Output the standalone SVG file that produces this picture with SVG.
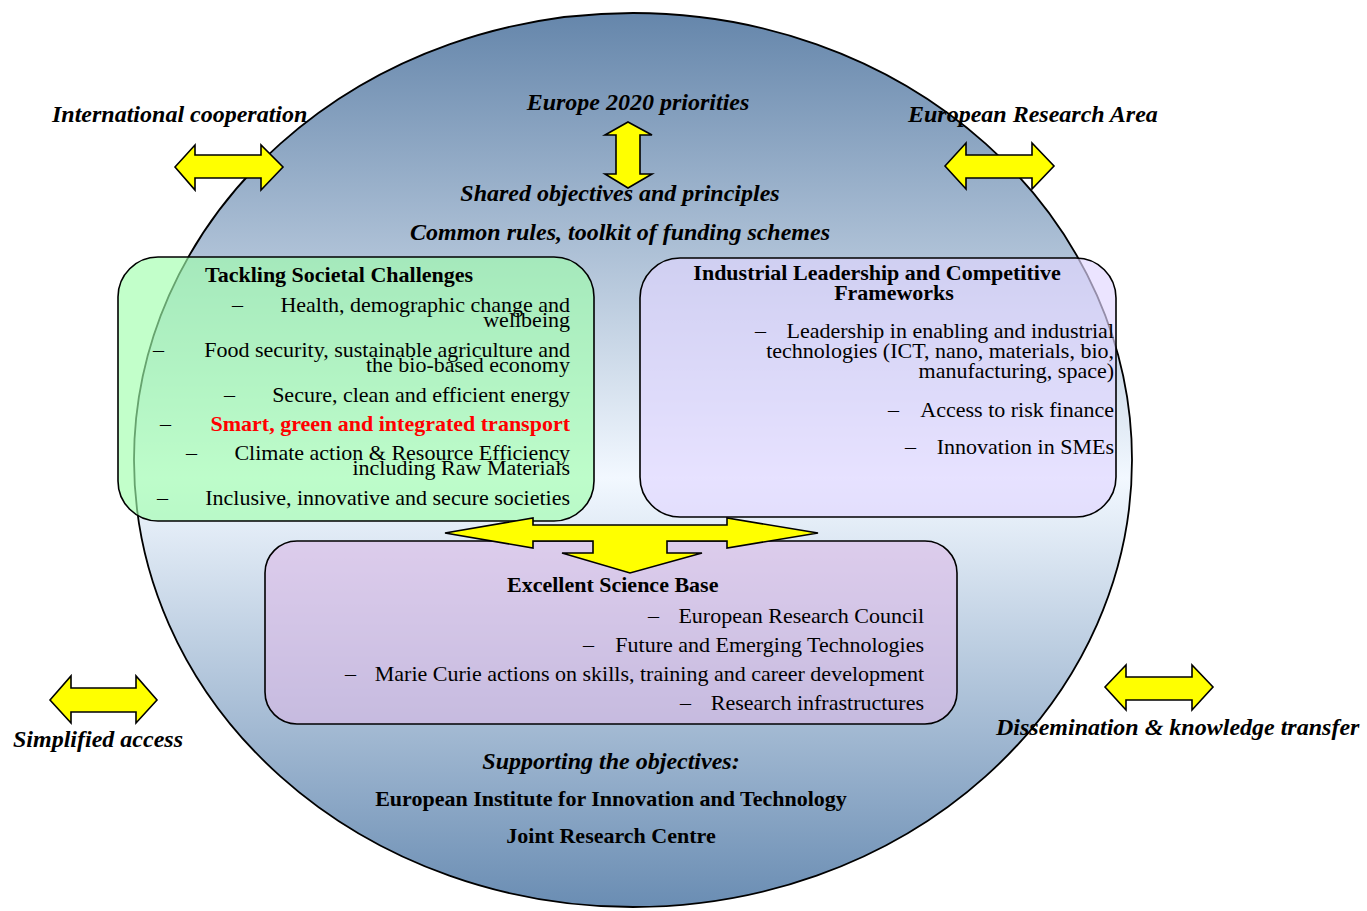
<svg xmlns="http://www.w3.org/2000/svg" width="1367" height="911" viewBox="0 0 1367 911">
<style>
text{font-family:"Liberation Serif","Times New Roman",serif;fill:#000;}
.lbl{font-size:24px;font-weight:bold;font-style:italic;}
.ttl{font-size:22px;font-weight:bold;}
.it{font-size:22px;}
.r{text-anchor:end;}
.m{text-anchor:middle;}
.red{fill:#ff0000;font-weight:bold;}
.box{stroke:#000;stroke-width:1.6;}
.arr{fill:#ffff00;stroke:#000;stroke-width:1.6;stroke-linejoin:miter;}
</style>
<defs>
<linearGradient id="gEll" x1="0" y1="0" x2="0" y2="1">
<stop offset="0" stop-color="#6586ab"/>
<stop offset="0.52" stop-color="#f2f8ff"/>
<stop offset="1" stop-color="#6a8db3"/>
</linearGradient>
</defs>
<rect width="1367" height="911" fill="#fff"/>
<g id="circle">
<ellipse cx="633" cy="460" rx="499" ry="447" fill="url(#gEll)" stroke="#000" stroke-width="1.8"/>
</g>
<g id="outer-labels">
<text class="lbl" x="52" y="122">International cooperation</text>
<text class="lbl m" x="638" y="110">Europe 2020 priorities</text>
<text class="lbl" x="908" y="122">European Research Area</text>
<text class="lbl m" x="620" y="201">Shared objectives and principles</text>
<text class="lbl m" x="620" y="240">Common rules, toolkit of funding schemes</text>
<text class="lbl" x="13" y="747">Simplified access</text>
<text class="lbl" x="996" y="735">Dissemination &amp; knowledge transfer</text>
<text class="lbl m" x="611" y="769">Supporting the objectives:</text>
<text class="ttl m" x="611" y="806">European Institute for Innovation and Technology</text>
<text class="ttl m" x="611" y="843">Joint Research Centre</text>
</g>
<g id="societal">
<rect class="box" x="118" y="257" width="476" height="264" rx="40" fill="#a0ffac" fill-opacity="0.64"/>
<text class="ttl" x="205" y="282">Tackling Societal Challenges</text>
<text class="it" x="232" y="312">–</text>
<text class="it r" x="570" y="312">Health, demographic change and</text>
<text class="it r" x="570" y="327">wellbeing</text>
<text class="it" x="153" y="357">–</text>
<text class="it r" x="570" y="357">Food security, sustainable agriculture and</text>
<text class="it r" x="570" y="372">the bio-based economy</text>
<text class="it" x="224" y="402">–</text>
<text class="it r" x="570" y="402">Secure, clean and efficient energy</text>
<text class="it" x="160" y="431">–</text>
<text class="it r red" x="570" y="431">Smart, green and integrated transport</text>
<text class="it" x="186" y="460">–</text>
<text class="it r" x="570" y="460">Climate action &amp; Resource Efficiency</text>
<text class="it r" x="570" y="475">including Raw Materials</text>
<text class="it" x="157" y="505">–</text>
<text class="it r" x="570" y="505">Inclusive, innovative and secure societies</text>
</g>
<g id="industrial">
<rect class="box" x="640" y="258" width="476" height="259" rx="40" fill="#e0d6ff" fill-opacity="0.66"/>
<text class="ttl m" x="877" y="280">Industrial Leadership and Competitive</text>
<text class="ttl m" x="894" y="300">Frameworks</text>
<text class="it" x="755" y="338">–</text>
<text class="it r" x="1114" y="338">Leadership in enabling and industrial</text>
<text class="it r" x="1114" y="358">technologies (ICT, nano, materials, bio,</text>
<text class="it r" x="1114" y="378">manufacturing, space)</text>
<text class="it" x="888" y="417">–</text>
<text class="it r" x="1114" y="417">Access to risk finance</text>
<text class="it" x="905" y="454">–</text>
<text class="it r" x="1114" y="454">Innovation in SMEs</text>
</g>
<g id="science">
<rect class="box" x="265" y="541" width="692" height="183" rx="32" fill="#dcbce6" fill-opacity="0.62"/>
<text class="ttl" x="507" y="592">Excellent Science Base</text>
<text class="it" x="648" y="623">–</text>
<text class="it r" x="924" y="623">European Research Council</text>
<text class="it" x="583" y="652">–</text>
<text class="it r" x="924" y="652">Future and Emerging Technologies</text>
<text class="it" x="345" y="681">–</text>
<text class="it r" x="924" y="681">Marie Curie actions on skills, training and career development</text>
<text class="it" x="680" y="710">–</text>
<text class="it r" x="924" y="710">Research infrastructures</text>
</g>
<g id="connectors">
<polygon class="arr" points="445,533 533,518 533,525 727,525 727,518 818,533 727,548 727,541 667,541 667,553 702,553 630,573 562,553 593,553 593,541 533,541 533,548"/>
<polygon class="arr" points="628,122 652,135 640,135 640,174 652,174 628,188 605,174 616,174 616,135 605,135"/>
<polygon class="arr" points="175,167 195,145 195,155 261,155 261,145 283,167 261,190 261,178 195,178 195,190"/>
<polygon class="arr" points="945,166 966,143 966,155 1032,155 1032,143 1054,166 1032,189 1032,178 966,178 966,189"/>
<polygon class="arr" points="50,700 71,676 71,688 136,688 136,676 157,700 136,723 136,712 71,712 71,723"/>
<polygon class="arr" points="1105,687 1126,665 1126,677 1192,677 1192,665 1213,687 1192,710 1192,700 1126,700 1126,710"/>
</g>
</svg>
